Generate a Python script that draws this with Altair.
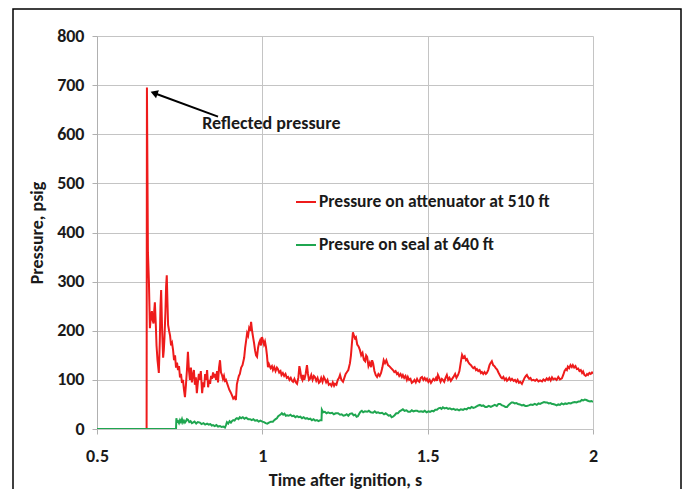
import altair as alt
import pandas as pd

FONT = "Carlito, Lato, sans-serif"

red_name = "Pressure on attenuator at 510 ft"
green_name = "Presure on seal at 640 ft"

# (time s, pressure psig)
red_points = [
    (0.650, 0), (0.651, 695), (0.654, 360), (0.657, 300), (0.660, 205), (0.663, 230),
    (0.666, 240), (0.668, 222), (0.671, 215), (0.673, 240), (0.675, 258), (0.678, 210),
    (0.680, 170), (0.683, 140), (0.687, 114), (0.690, 180), (0.692, 250), (0.694, 283),
    (0.697, 200), (0.700, 145), (0.702, 160), (0.704, 185), (0.707, 240), (0.709, 290),
    (0.711, 313), (0.713, 260), (0.715, 212), (0.718, 200), (0.721, 190), (0.724, 170),
    (0.727, 175), (0.730, 161), (0.733, 140), (0.736, 150), (0.739, 125), (0.742, 135),
    (0.745, 120), (0.748, 128), (0.751, 105), (0.754, 112), (0.757, 94), (0.760, 100),
    (0.763, 80), (0.766, 65), (0.769, 90), (0.772, 120), (0.775, 157), (0.778, 120),
    (0.781, 100), (0.784, 125), (0.787, 95), (0.790, 110), (0.793, 120), (0.796, 90),
    (0.799, 105), (0.802, 73), (0.805, 95), (0.808, 112), (0.811, 100), (0.814, 118),
    (0.818, 73), (0.821, 95), (0.824, 85), (0.827, 112), (0.830, 100), (0.833, 120),
    (0.836, 85), (0.839, 100), (0.842, 92), (0.845, 108), (0.848, 102), (0.851, 115),
    (0.854, 105), (0.857, 112), (0.860, 100), (0.863, 118), (0.866, 95), (0.869, 125),
    (0.872, 140), (0.875, 115), (0.878, 110), (0.881, 102), (0.884, 108), (0.887, 98),
    (0.890, 100), (0.893, 94), (0.896, 88), (0.900, 80), (0.904, 75), (0.908, 69),
    (0.912, 62), (0.916, 65), (0.920, 59), (0.923, 91), (0.926, 100), (0.929, 108),
    (0.932, 112), (0.936, 125), (0.940, 130), (0.945, 145), (0.948, 165), (0.951, 180),
    (0.954, 195), (0.957, 190), (0.960, 205), (0.963, 200), (0.966, 218), (0.969, 200),
    (0.972, 187), (0.975, 175), (0.978, 160), (0.981, 150), (0.984, 147), (0.987, 165),
    (0.990, 175), (0.993, 180), (0.996, 170), (0.999, 187), (1.002, 180), (1.005, 172),
    (1.008, 178), (1.011, 167), (1.014, 150), (1.017, 126), (1.020, 132), (1.025, 124),
    (1.029, 128), (1.032, 120), (1.036, 126), (1.040, 118), (1.044, 125), (1.047, 122),
    (1.051, 115), (1.055, 118), (1.058, 110), (1.062, 114), (1.066, 108), (1.070, 112),
    (1.074, 104), (1.078, 106), (1.082, 100), (1.086, 104), (1.090, 98), (1.093, 96),
    (1.097, 102), (1.101, 95), (1.105, 92), (1.109, 105), (1.112, 128), (1.114, 122),
    (1.118, 104), (1.121, 100), (1.123, 110), (1.127, 100), (1.131, 112), (1.135, 130),
    (1.138, 112), (1.141, 100), (1.144, 102), (1.148, 110), (1.152, 100), (1.156, 108),
    (1.159, 106), (1.163, 98), (1.167, 104), (1.171, 94), (1.174, 96), (1.178, 104),
    (1.182, 96), (1.186, 106), (1.189, 102), (1.193, 95), (1.197, 100), (1.201, 90),
    (1.205, 92), (1.209, 88), (1.213, 95), (1.217, 88), (1.220, 92), (1.224, 90),
    (1.228, 100), (1.232, 104), (1.235, 110), (1.239, 100), (1.244, 96), (1.248, 104),
    (1.252, 112), (1.256, 116), (1.260, 120), (1.265, 134), (1.268, 150), (1.271, 175),
    (1.274, 197), (1.277, 190), (1.280, 185), (1.283, 187), (1.287, 172), (1.291, 168),
    (1.295, 161), (1.299, 150), (1.303, 155), (1.307, 141), (1.311, 138), (1.314, 150),
    (1.317, 147), (1.321, 128), (1.325, 135), (1.329, 126), (1.332, 140), (1.335, 134),
    (1.339, 118), (1.343, 110), (1.347, 106), (1.351, 112), (1.355, 108), (1.359, 114),
    (1.363, 125), (1.367, 140), (1.371, 134), (1.375, 140), (1.380, 130), (1.384, 128),
    (1.388, 125), (1.392, 122), (1.395, 120), (1.399, 116), (1.403, 118), (1.407, 112),
    (1.410, 114), (1.414, 108), (1.418, 112), (1.422, 106), (1.425, 110), (1.429, 104),
    (1.433, 108), (1.437, 100), (1.440, 106), (1.444, 100), (1.448, 102), (1.452, 94),
    (1.456, 96), (1.460, 100), (1.464, 95), (1.468, 102), (1.471, 98), (1.475, 96),
    (1.479, 104), (1.483, 106), (1.487, 100), (1.491, 104), (1.495, 99), (1.498, 102),
    (1.502, 96), (1.506, 100), (1.510, 94), (1.513, 97), (1.517, 102), (1.521, 99),
    (1.525, 104), (1.528, 98), (1.531, 110), (1.535, 104), (1.539, 96), (1.543, 102),
    (1.546, 100), (1.550, 96), (1.554, 104), (1.558, 110), (1.562, 100), (1.566, 104),
    (1.570, 98), (1.574, 102), (1.578, 106), (1.583, 112), (1.587, 104), (1.592, 110),
    (1.596, 118), (1.600, 135), (1.604, 151), (1.608, 145), (1.612, 148), (1.616, 140),
    (1.619, 142), (1.623, 136), (1.627, 132), (1.631, 130), (1.634, 127), (1.638, 124),
    (1.642, 126), (1.646, 120), (1.649, 122), (1.653, 118), (1.657, 120), (1.661, 114),
    (1.664, 116), (1.668, 112), (1.672, 116), (1.676, 112), (1.679, 114), (1.683, 120),
    (1.687, 130), (1.690, 134), (1.694, 138), (1.698, 130), (1.702, 128), (1.706, 124),
    (1.710, 121), (1.714, 115), (1.718, 110), (1.722, 105), (1.725, 103), (1.729, 106),
    (1.733, 100), (1.737, 103), (1.740, 98), (1.743, 100), (1.747, 104), (1.751, 99),
    (1.755, 102), (1.760, 98), (1.764, 100), (1.768, 96), (1.772, 100), (1.776, 94),
    (1.780, 96), (1.785, 92), (1.789, 98), (1.793, 104), (1.797, 108), (1.800, 110),
    (1.803, 106), (1.807, 102), (1.811, 104), (1.815, 99), (1.820, 100), (1.825, 98),
    (1.830, 101), (1.835, 97), (1.840, 99), (1.846, 97), (1.850, 101), (1.855, 98),
    (1.860, 103), (1.864, 100), (1.868, 104), (1.872, 99), (1.876, 105), (1.880, 101),
    (1.885, 103), (1.890, 100), (1.895, 106), (1.900, 101), (1.906, 103), (1.910, 110),
    (1.914, 118), (1.918, 122), (1.921, 120), (1.924, 127), (1.928, 124), (1.932, 130),
    (1.936, 126), (1.939, 130), (1.943, 125), (1.947, 128), (1.951, 122), (1.955, 123),
    (1.959, 118), (1.963, 120), (1.967, 114), (1.970, 117), (1.974, 110), (1.978, 108),
    (1.982, 112), (1.985, 110), (1.989, 114), (1.993, 112), (1.997, 115), (2.000, 113),
]

green_points = [
    (0.500, 0), (0.739, 0), (0.740, 22), (0.742, 14), (0.745, 16), (0.748, 12),
    (0.751, 18), (0.754, 14), (0.757, 20), (0.760, 13), (0.763, 17), (0.766, 13),
    (0.769, 16), (0.772, 20), (0.775, 19), (0.779, 14), (0.783, 16), (0.787, 12),
    (0.790, 13), (0.795, 15), (0.800, 11), (0.805, 14), (0.811, 13), (0.816, 10),
    (0.822, 12), (0.827, 9), (0.833, 11), (0.838, 9), (0.843, 10), (0.847, 7),
    (0.851, 8), (0.856, 6), (0.861, 8), (0.866, 5), (0.872, 6), (0.877, 4),
    (0.882, 5), (0.887, 3), (0.890, 8), (0.893, 14), (0.897, 11), (0.901, 16),
    (0.905, 13), (0.908, 16), (0.912, 18), (0.916, 17), (0.920, 21), (0.923, 22),
    (0.928, 20), (0.932, 24), (0.936, 22), (0.941, 24), (0.946, 21), (0.951, 23),
    (0.957, 20), (0.963, 20), (0.968, 18), (0.973, 20), (0.978, 17), (0.984, 18),
    (0.989, 15), (0.994, 17), (1.000, 15), (1.005, 14), (1.010, 12), (1.015, 11),
    (1.020, 13), (1.026, 15), (1.032, 15), (1.036, 18), (1.040, 20), (1.044, 22),
    (1.048, 26), (1.052, 28), (1.056, 30), (1.059, 32), (1.063, 29), (1.067, 31),
    (1.071, 27), (1.075, 28), (1.080, 27), (1.085, 29), (1.090, 26), (1.095, 27),
    (1.100, 24), (1.105, 26), (1.110, 24), (1.115, 25), (1.120, 22), (1.125, 24),
    (1.130, 21), (1.135, 22), (1.140, 20), (1.145, 21), (1.150, 18), (1.155, 20),
    (1.160, 17), (1.165, 18), (1.170, 16), (1.175, 18), (1.179, 18), (1.180, 39),
    (1.184, 34), (1.189, 35), (1.194, 32), (1.199, 34), (1.205, 32), (1.211, 33),
    (1.216, 30), (1.222, 32), (1.229, 32), (1.235, 29), (1.240, 30), (1.245, 27),
    (1.250, 28), (1.255, 30), (1.260, 27), (1.265, 31), (1.271, 32), (1.276, 28),
    (1.281, 29), (1.285, 25), (1.289, 26), (1.293, 31), (1.297, 35), (1.301, 37),
    (1.305, 34), (1.310, 36), (1.317, 35), (1.322, 37), (1.328, 34), (1.335, 33),
    (1.340, 36), (1.345, 33), (1.350, 34), (1.356, 32), (1.362, 33), (1.368, 30),
    (1.373, 32), (1.377, 30), (1.382, 27), (1.387, 28), (1.391, 24), (1.395, 25),
    (1.400, 28), (1.405, 32), (1.410, 32), (1.415, 36), (1.420, 38), (1.425, 40),
    (1.430, 37), (1.436, 38), (1.441, 35), (1.447, 35), (1.452, 38), (1.457, 36),
    (1.463, 37), (1.468, 37), (1.474, 35), (1.480, 36), (1.486, 35), (1.491, 37),
    (1.497, 34), (1.502, 36), (1.507, 35), (1.513, 37), (1.518, 36), (1.523, 39),
    (1.528, 39), (1.533, 42), (1.538, 43), (1.542, 41), (1.546, 44), (1.551, 42),
    (1.557, 43), (1.562, 41), (1.567, 42), (1.573, 40), (1.578, 41), (1.584, 39),
    (1.589, 40), (1.595, 38), (1.600, 40), (1.607, 39), (1.612, 41), (1.618, 40),
    (1.623, 43), (1.628, 42), (1.633, 45), (1.638, 43), (1.643, 44), (1.648, 46),
    (1.653, 48), (1.658, 49), (1.663, 47), (1.668, 48), (1.674, 45), (1.679, 45),
    (1.685, 47), (1.691, 45), (1.697, 47), (1.703, 49), (1.709, 47), (1.714, 51),
    (1.719, 51), (1.725, 48), (1.730, 47), (1.735, 45), (1.740, 45), (1.745, 49),
    (1.750, 52), (1.754, 54), (1.758, 54), (1.763, 52), (1.768, 53), (1.773, 51),
    (1.779, 50), (1.785, 48), (1.790, 49), (1.795, 47), (1.800, 47), (1.806, 48),
    (1.812, 50), (1.818, 49), (1.824, 51), (1.830, 49), (1.835, 52), (1.840, 51),
    (1.846, 53), (1.852, 55), (1.857, 54), (1.861, 54), (1.866, 52), (1.871, 53),
    (1.876, 51), (1.879, 51), (1.884, 50), (1.890, 48), (1.895, 50), (1.900, 49),
    (1.905, 52), (1.911, 50), (1.916, 52), (1.921, 51), (1.927, 53), (1.933, 52),
    (1.939, 54), (1.945, 55), (1.950, 54), (1.956, 56), (1.961, 56), (1.966, 59),
    (1.970, 58), (1.975, 60), (1.980, 59), (1.986, 57), (1.991, 56), (1.995, 57),
    (2.000, 55),
]

x_ticks = [0.5, 1, 1.5, 2]
y_ticks = [0, 100, 200, 300, 400, 500, 600, 700, 800]
series_colors = ["#ee1b1b", "#1fa650"]

df = pd.concat([
    pd.DataFrame(red_points, columns=["t", "p"]).assign(series=red_name),
    pd.DataFrame(green_points, columns=["t", "p"]).assign(series=green_name),
], ignore_index=True)
df["idx"] = range(len(df))

x_scale = alt.Scale(domain=[0.5, 2], nice=False, zero=False)
y_scale = alt.Scale(domain=[0, 800], nice=False)

lines = alt.Chart(df).mark_line(strokeWidth=2, clip=True).encode(
    x=alt.X("t:Q", scale=x_scale,
            axis=alt.Axis(values=x_ticks, format="~g", labelFlush=False,
                          title="Time after ignition, s")),
    y=alt.Y("p:Q", scale=y_scale,
            axis=alt.Axis(values=y_ticks, labelFlush=False, title="Pressure, psig")),
    color=alt.Color("series:N",
                    scale=alt.Scale(domain=[red_name, green_name], range=series_colors),
                    legend=alt.Legend(title=None, orient="none", legendX=198, legendY=155,
                                      symbolType="stroke", symbolStrokeWidth=2,
                                      symbolSize=400, rowPadding=23, labelOffset=2,
                                      labelFont=FONT, labelFontSize=17.5, labelFontWeight="bold",
                                      labelColor="#1a1a1a", labelLimit=400)),
    order="idx:Q",
    detail="series:N",
)

ann_df = pd.DataFrame({"t": [0.818], "p": [620], "label": ["Reflected pressure"]})
ann_text = alt.Chart(ann_df).mark_text(
    align="left", baseline="middle", font=FONT, fontSize=18, fontWeight="bold", color="#1a1a1a"
).encode(x=alt.X("t:Q", scale=x_scale), y=alt.Y("p:Q", scale=y_scale), text="label:N")

arrow_df = pd.DataFrame({"t": [0.866], "p": [636], "t2": [0.672], "p2": [684]})
arrow_line = alt.Chart(arrow_df).mark_rule(color="black", strokeWidth=2).encode(
    x=alt.X("t:Q", scale=x_scale), y=alt.Y("p:Q", scale=y_scale), x2="t2:Q", y2="p2:Q")
head_df = pd.DataFrame({"t": [0.676], "p": [683]})
arrow_head = alt.Chart(head_df).mark_point(
    shape="triangle", filled=True, color="black", size=70, angle=290, opacity=1
).encode(x=alt.X("t:Q", scale=x_scale), y=alt.Y("p:Q", scale=y_scale))

border = alt.Chart(ann_df).mark_rect(fill=None, stroke="black", strokeWidth=1.5).encode(
    x=alt.value(-84), x2=alt.value(584), y=alt.value(-27), y2=alt.value(480))

chart = alt.layer(lines, ann_text, arrow_line, arrow_head, border).properties(
    width=496, height=393,
    autosize=alt.AutoSizeParams(type="none"),
    padding={"left": 89, "top": 28, "right": 89, "bottom": 60},
).configure_view(stroke=None).configure_axis(
    labelFont=FONT, titleFont=FONT, labelFontSize=18, titleFontSize=18,
    labelFontWeight="bold", titleFontWeight="bold", labelColor="#1a1a1a", titleColor="#1a1a1a",
    gridColor="#c4c4c4", gridWidth=1, domainColor="#b0b0b0", tickColor="#b0b0b0", tickSize=5,
).configure_axisX(labelPadding=13, titlePadding=6, domain=False
).configure_axisY(labelPadding=8, titlePadding=10)

chart.save("out.html", embed_options={"renderer": "svg", "actions": False})
